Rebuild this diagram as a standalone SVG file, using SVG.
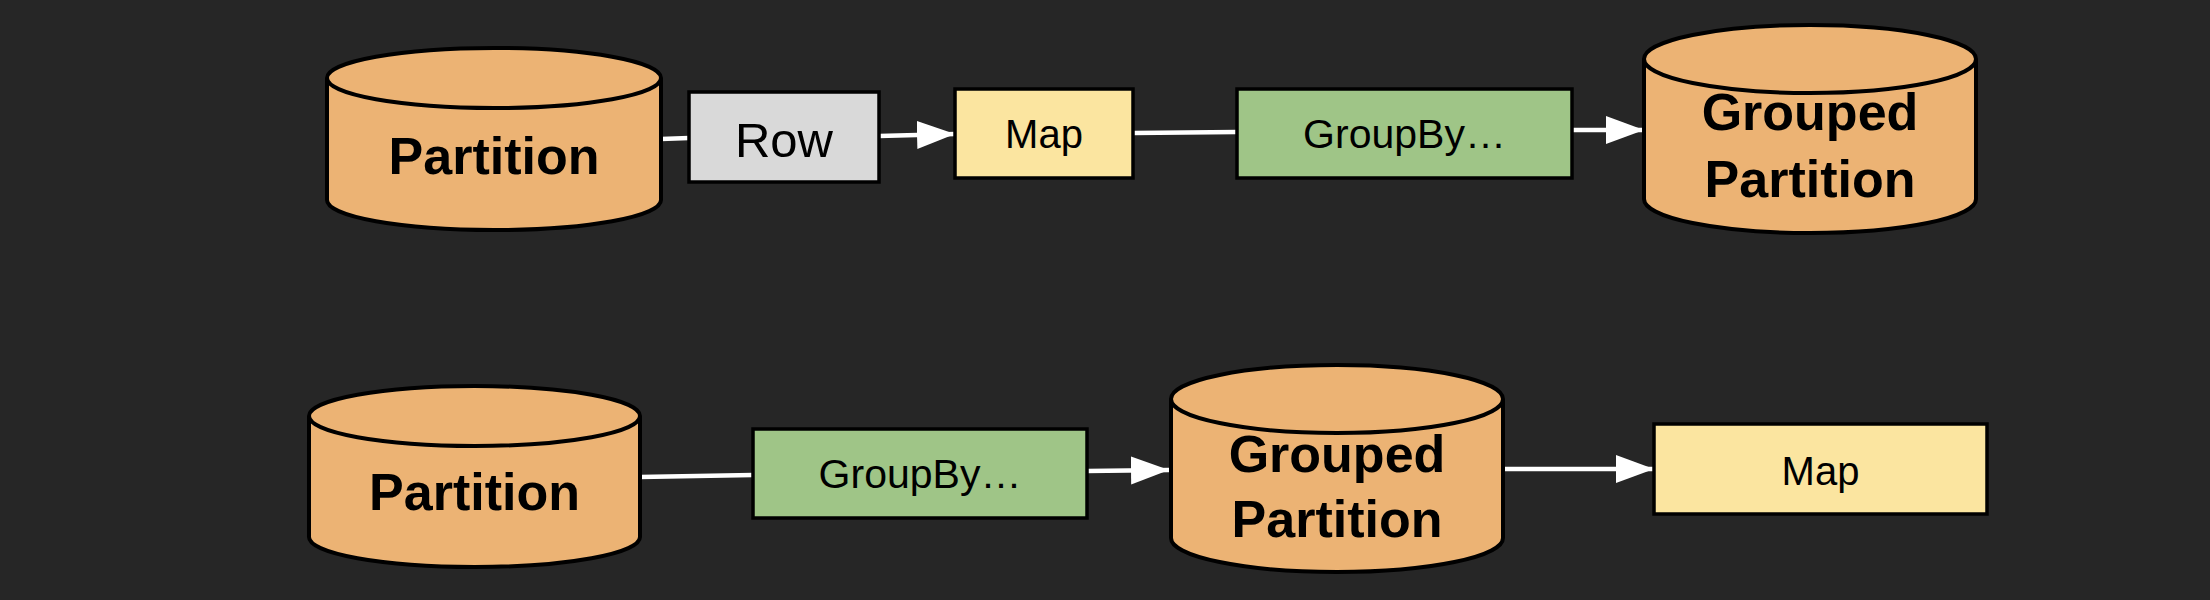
<svg xmlns="http://www.w3.org/2000/svg" width="2210" height="600" viewBox="0 0 2210 600">
<style>
.cyl{fill:#ecb374;stroke:#000;stroke-width:4;stroke-linejoin:round}
.box{stroke:#000;stroke-width:3.5}
.gray{fill:#d9d9d9}.yellow{fill:#fbe5a0}.green{fill:#9fc587}
.bt{font-family:"Liberation Sans",Arial,sans-serif;font-weight:bold;font-size:52px;fill:#000;text-anchor:middle}
.nt{font-family:"Liberation Sans",Arial,sans-serif;font-size:41px;fill:#000;text-anchor:middle}
.edge{stroke:#fff;stroke-width:4.5;fill:none}
</style>
<defs>
<marker id="ah" markerUnits="userSpaceOnUse" markerWidth="40" markerHeight="30" refX="38" refY="14" orient="auto">
<path d="M0,0 L38,14 L0,28 Z" fill="#fff"/>
</marker>
</defs>
<rect width="2210" height="600" fill="#262626"/>

<g id="edges">
<path class="edge" d="M661,139 L689,138"/>
<path class="edge" d="M879,136 L955,134" marker-end="url(#ah)"/>
<path class="edge" d="M1133,133 L1237,132"/>
<path class="edge" d="M1572,130 L1644,130" marker-end="url(#ah)"/>
<path class="edge" d="M640,477 L753,475"/>
<path class="edge" d="M1087,471 L1169,470" marker-end="url(#ah)"/>
<path class="edge" d="M1503,469 L1654,469" marker-end="url(#ah)"/>
</g>

<g id="partition1">
<path class="cyl" d="M327,78 A167,30 0 0 1 661,78 V200 A167,30 0 0 1 327,200 Z"/>
<path class="cyl" d="M327,78 A167,30 0 0 0 661,78" fill="none"/>
<text class="bt" x="494" y="174">Partition</text>
</g>

<g id="row">
<rect class="box gray" x="689" y="92" width="190" height="90"/>
<text class="nt" x="784" y="157" style="font-size:49px">Row</text>
</g>

<g id="map1">
<rect class="box yellow" x="955" y="89" width="178" height="89"/>
<text class="nt" x="1044" y="148" style="font-size:40px">Map</text>
</g>

<g id="groupby1">
<rect class="box green" x="1237" y="89" width="335" height="89"/>
<text class="nt" x="1404.5" y="148">GroupBy…</text>
</g>

<g id="grouped1">
<path class="cyl" d="M1644,59 A166,34 0 0 1 1976,59 V199 A166,34 0 0 1 1644,199 Z"/>
<path class="cyl" d="M1644,59 A166,34 0 0 0 1976,59" fill="none"/>
<text class="bt" x="1810" y="130">Grouped</text>
<text class="bt" x="1810" y="197">Partition</text>
</g>

<g id="partition2">
<path class="cyl" d="M309,416 A165.5,30 0 0 1 640,416 V537 A165.5,30 0 0 1 309,537 Z"/>
<path class="cyl" d="M309,416 A165.5,30 0 0 0 640,416" fill="none"/>
<text class="bt" x="474.5" y="510">Partition</text>
</g>

<g id="groupby2">
<rect class="box green" x="753" y="429" width="334" height="89"/>
<text class="nt" x="920" y="488">GroupBy…</text>
</g>

<g id="grouped2">
<path class="cyl" d="M1171,399 A166,34 0 0 1 1503,399 V538 A166,34 0 0 1 1171,538 Z"/>
<path class="cyl" d="M1171,399 A166,34 0 0 0 1503,399" fill="none"/>
<text class="bt" x="1337" y="472">Grouped</text>
<text class="bt" x="1337" y="537">Partition</text>
</g>

<g id="map2">
<rect class="box yellow" x="1654" y="424" width="333" height="90"/>
<text class="nt" x="1820.5" y="485" style="font-size:40px">Map</text>
</g>
</svg>
